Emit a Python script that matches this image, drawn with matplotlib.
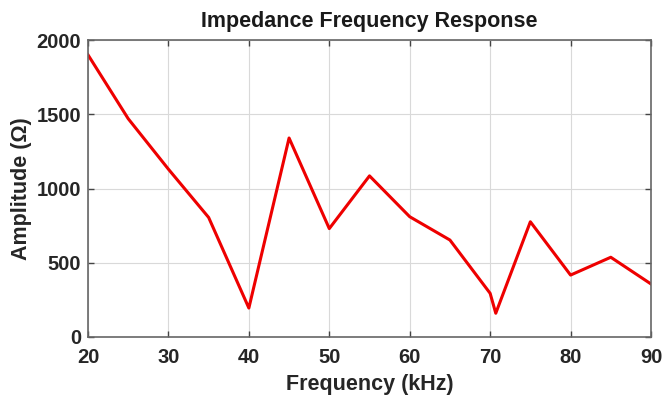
import numpy as np
import matplotlib.pyplot as plt

plt.rcParams["font.family"] = "Liberation Sans"
plt.rcParams["font.weight"] = "bold"

# frequency (kHz) and impedance amplitude (ohm)
freq_khz = [20, 25, 30, 35, 40, 45, 50, 55, 60, 65, 70, 70.7, 75, 80, 85, 90]
amplitude = [1900, 1470, 1130, 805, 195, 1340, 730, 1085, 810, 653, 294, 160, 776, 417, 537, 357]

xticks = [20, 30, 40, 50, 60, 70, 80, 90]
yticks = [0, 500, 1000, 1500, 2000]

fig = plt.figure(figsize=(6.62, 3.97), dpi=100)
ax = fig.add_axes([88 / 662, 1 - 337 / 397, (651 - 88) / 662, (337 - 40) / 397])

ax.plot(freq_khz, amplitude, color="#ee0000", linewidth=2.2)

ax.set_xlim(20, 90)
ax.set_ylim(0, 2000)
ax.set_xticks(xticks)
ax.set_yticks(yticks)
ax.grid(True, color="#d9d9d9", linewidth=0.8)
ax.set_axisbelow(True)

for s in ax.spines.values():
    s.set_color("#666666")
    s.set_linewidth(1.2)
ax.tick_params(direction="in", top=True, right=True, length=4, width=1.0,
               color="#444444", labelsize=14.5, labelcolor="#262626")
ax.tick_params(axis="x", pad=8)
ax.tick_params(axis="y", pad=5)
for lbl in ax.get_xticklabels() + ax.get_yticklabels():
    lbl.set_fontweight("bold")

ax.set_title("Impedance Frequency Response", fontsize=15.5, fontweight="bold",
             color="#1a1a1a", pad=9)
ax.set_xlabel("Frequency (kHz)", fontsize=15.5, fontweight="bold", color="#262626", labelpad=5)
ax.set_ylabel("Amplitude (Ω)", fontsize=15.5, fontweight="bold", color="#262626", labelpad=3)

fig.savefig("out.png", dpi=100)
